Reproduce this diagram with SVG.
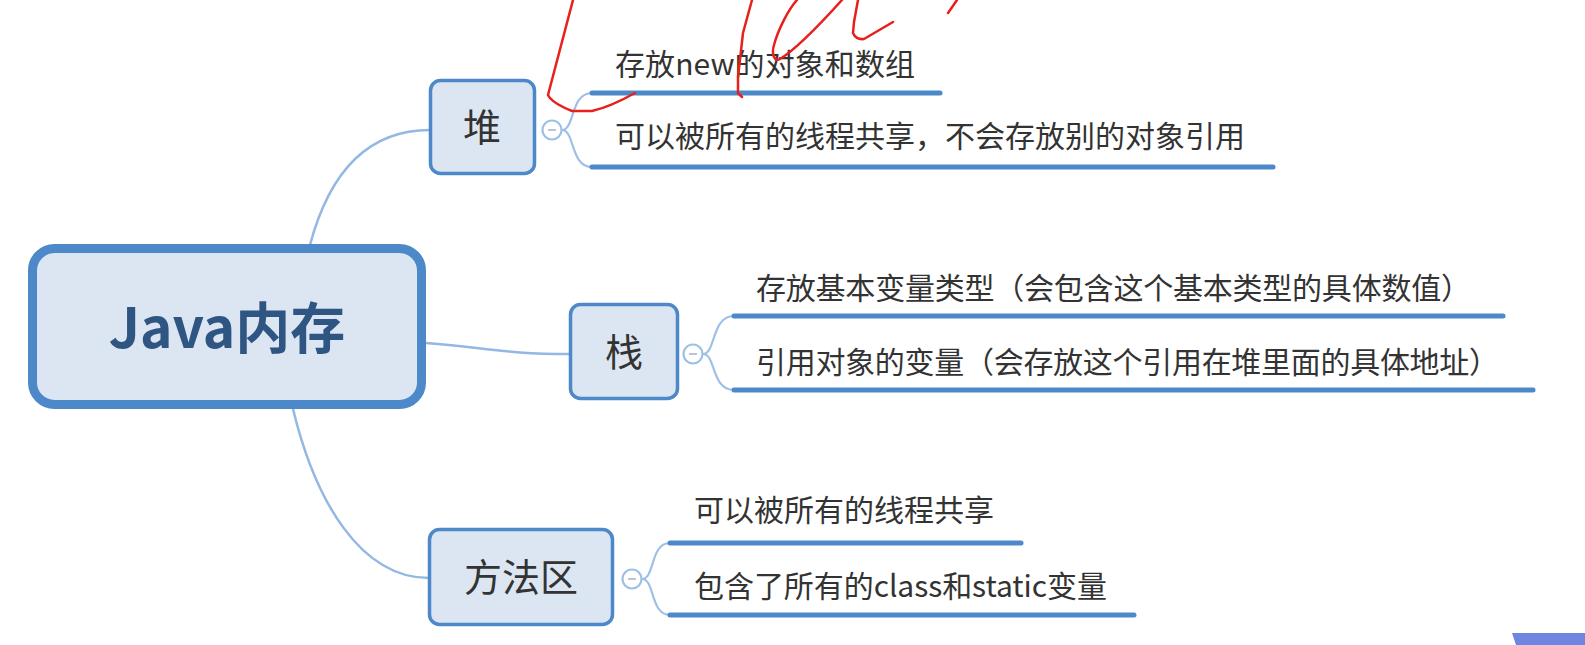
<svg xmlns="http://www.w3.org/2000/svg" width="1585" height="645" viewBox="0 0 1585 645">
<style>
.bg{fill:#ffffff}
.main{fill:#dce6f2;stroke:#4d88c9;stroke-width:9}
.box{fill:#dce6f2;stroke:#4d88c9;stroke-width:3.5}
.conn{fill:none;stroke:#93b8e3;stroke-width:2.5}
.br{fill:none;stroke:#9fc0e6;stroke-width:2.2}
.ul{stroke:#4d88c9;stroke-width:5;stroke-linecap:round}
.tog{fill:#ffffff;stroke:#9fc0e6;stroke-width:2.2}
.togm{stroke:#9fb2c8;stroke-width:1.5}
.t{font-family:"Noto Sans CJK SC","Liberation Sans",sans-serif;font-size:30px;fill:#333333}
.nt{font-family:"Noto Sans CJK SC","Liberation Sans",sans-serif;font-size:38px;fill:#333333;text-anchor:middle}
.mt{font-family:"Noto Sans CJK SC","Liberation Sans",sans-serif;font-size:55px;font-weight:bold;fill:#2f5582;text-anchor:middle}
.red{fill:none;stroke:#e8201c;stroke-width:2.5;stroke-linecap:round;stroke-linejoin:round}
</style>
<rect class="bg" x="0" y="0" width="1585" height="645"/>

<g id="connectors">
<path class="conn" d="M310,245 C330,170 370,130 430,130"/>
<path class="conn" d="M426,343 C490,348 505,354 570,354"/>
<path class="conn" d="M293,409 C315,500 360,578 429,578"/>
<path class="br" d="M562,130 C575,130 570,93 592,93"/>
<path class="br" d="M562,130 C575,130 570,167 592,167"/>
<path class="br" d="M703,354 C716,354 711,316 734,316"/>
<path class="br" d="M703,354 C716,354 711,390 734,390"/>
<path class="br" d="M642,579 C655,579 650,543 670,543"/>
<path class="br" d="M642,579 C655,579 650,615 670,615"/>
</g>

<g id="root">
<rect class="main" x="32.5" y="248.5" width="389" height="156" rx="22"/>
<text class="mt" x="227" y="348">Java内存</text>
</g>

<g id="heap">
<rect class="box" x="430.5" y="80.5" width="104" height="93" rx="10"/>
<text class="nt" x="482" y="141">堆</text>
<circle class="tog" cx="552" cy="130" r="9.5"/>
<line class="togm" x1="548" y1="130" x2="556" y2="130"/>
</g>
<g id="heap-1">
<text class="t" x="615" y="75" textLength="300">存放new的对象和数组</text>
<line class="ul" x1="592" y1="93" x2="940" y2="93"/>
</g>
<g id="heap-2">
<text class="t" x="615" y="147" textLength="630">可以被所有的线程共享，不会存放别的对象引用</text>
<line class="ul" x1="592" y1="167" x2="1273" y2="167"/>
</g>

<g id="stack">
<rect class="box" x="570.5" y="304.5" width="107" height="94" rx="10"/>
<text class="nt" x="624" y="366">栈</text>
<circle class="tog" cx="693" cy="354" r="9.5"/>
<line class="togm" x1="689" y1="354" x2="697" y2="354"/>
</g>
<g id="stack-1">
<text class="t" x="756" y="299" textLength="715">存放基本变量类型（会包含这个基本类型的具体数值）</text>
<line class="ul" x1="734" y1="316" x2="1503" y2="316"/>
</g>
<g id="stack-2">
<text class="t" x="756" y="373" textLength="743">引用对象的变量（会存放这个引用在堆里面的具体地址）</text>
<line class="ul" x1="734" y1="390" x2="1533" y2="390"/>
</g>

<g id="method">
<rect class="box" x="429.5" y="529.5" width="183" height="95" rx="10"/>
<text class="nt" x="521" y="591">方法区</text>
<circle class="tog" cx="632" cy="579" r="9.5"/>
<line class="togm" x1="628" y1="579" x2="636" y2="579"/>
</g>
<g id="method-1">
<text class="t" x="694" y="521" textLength="300">可以被所有的线程共享</text>
<line class="ul" x1="670" y1="543" x2="1021" y2="543"/>
</g>
<g id="method-2">
<text class="t" x="694" y="597" textLength="413">包含了所有的class和static变量</text>
<line class="ul" x1="670" y1="615" x2="1134" y2="615"/>
</g>

<g id="annotation">
<path class="red" d="M573,0 L548,95 Q552,103 572,111 L592,111 Q610,107 635,93"/>
<path class="red" d="M752,0 L743,33 L738,77 L738,93 L742,97"/>
<path class="red" d="M797,0 C788,10 778,30 774,45 C771,55 775,62 780,59 C795,50 815,30 842,0"/>
<path class="red" d="M858,0 L854,22 L853,33 Q856,40 864,39 L893,22"/>
<path class="red" d="M957,0 L948,13"/>
</g>
<polygon points="1512,633 1585,633 1585,645 1516,645" fill="#6f86e0"/>
</svg>
